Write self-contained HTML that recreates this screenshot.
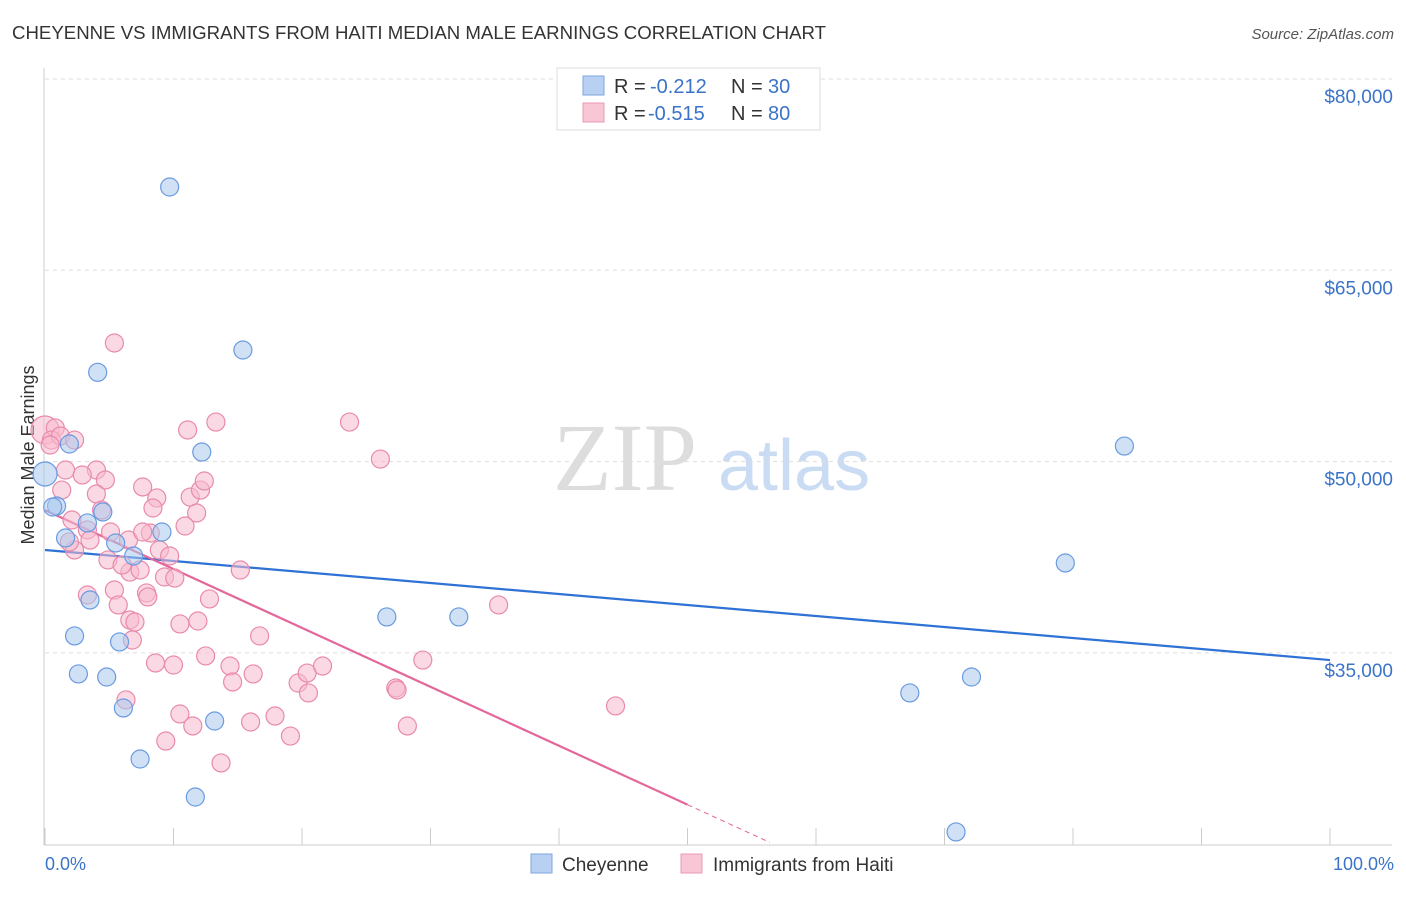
<!DOCTYPE html>
<html><head><meta charset="utf-8"><style>
body{margin:0;background:#fff;font-family:"Liberation Sans",sans-serif}
svg text{font-family:"Liberation Sans",sans-serif}
</style></head><body>
<svg id="chart" width="1406" height="892" xmlns="http://www.w3.org/2000/svg">
<text x="12" y="39" font-size="18" fill="#333" textLength="814" lengthAdjust="spacingAndGlyphs">CHEYENNE VS IMMIGRANTS FROM HAITI MEDIAN MALE EARNINGS CORRELATION CHART</text>
<text x="1394" y="39" font-size="15" fill="#555" text-anchor="end" font-style="italic">Source: ZipAtlas.com</text>
<text x="553" y="490" font-size="96" fill="#ddd" font-family="Liberation Serif" style="font-family:'Liberation Serif',serif">ZIP</text>
<text x="718" y="490" font-size="72" fill="#c9dcf3">atlas</text>
<text transform="translate(34,455) rotate(-90)" font-size="18" fill="#333" text-anchor="middle">Median Male Earnings</text>
<g id="grid"></g><g id="axes"></g><g id="lines"></g><g id="pts"></g>
<g>
<rect x="557" y="68" width="263" height="62" fill="#fff" stroke="#ddd"/>
<rect x="583" y="76" width="21" height="19" fill="#b8d1f3" stroke="#7ea6e0"/>
<rect x="583" y="103" width="21" height="19" fill="#f8c6d5" stroke="#eb98b4"/>
<text x="614" y="93" font-size="20" fill="#333">R =</text>
<text x="650" y="93" font-size="20" fill="#3b73c8">-0.212</text>
<text x="731" y="93" font-size="20" fill="#333">N =</text>
<text x="768" y="93" font-size="20" fill="#3b73c8">30</text>
<text x="614" y="120" font-size="20" fill="#333">R =</text>
<text x="648" y="120" font-size="20" fill="#3b73c8">-0.515</text>
<text x="731" y="120" font-size="20" fill="#333">N =</text>
<text x="768" y="120" font-size="20" fill="#3b73c8">80</text>
</g>
<g>
<rect x="531" y="854" width="21" height="19" fill="#b8d1f3" stroke="#7ea6e0"/>
<text x="562" y="871" font-size="19" fill="#333">Cheyenne</text>
<rect x="681" y="854" width="21" height="19" fill="#f8c6d5" stroke="#eb98b4"/>
<text x="713" y="871" font-size="19" fill="#333">Immigrants from Haiti</text>
</g>
<text x="45" y="870" font-size="18" fill="#3b73c8">0.0%</text>
<text x="1394" y="870" font-size="18" fill="#3b73c8" text-anchor="end">100.0%</text>
</svg>
<script>
const yTicks=[80000,65000,50000,35000];
const yTickLabels=["$80,000","$65,000","$50,000","$35,000"];
const xTicks=[0,10,20,30,40,50,60,70,80,90,100];
const blueX=[9.7,15.4,4.1,1.9,12.2,0,0.9,0.6,4.5,3.3,1.6,5.5,9.1,6.9,2.3,5.8,3.5,2.6,4.8,6.1,13.2,7.4,11.7,26.6,32.2,84.0,79.4,67.3,72.1,70.9];
const blueY=[71530,58750,57000,51380,50750,49030,46520,46440,46050,45190,44010,43620,44480,42600,36330,35860,39150,33350,33110,30680,29660,26680,23700,37820,37820,51220,42050,31860,33110,20960];
const pinkX=[0,0.8,0.5,1.2,2.3,0.4,1.6,1.3,4.0,2.9,4.7,4.0,4.4,3.3,2.3,1.9,5.1,3.5,5.4,3.3,4.9,6.6,7.4,6.0,5.7,6.6,7.0,6.8,5.4,7.6,8.7,8.4,8.2,8.9,9.7,9.3,10.1,7.9,8.0,11.1,13.3,11.3,12.1,12.4,11.8,10.9,12.8,10.5,11.9,12.5,8.6,10.0,14.4,14.6,16.2,16.7,15.2,10.5,11.5,16.0,17.9,13.7,9.4,6.3,19.1,19.7,20.4,20.5,21.6,23.7,26.1,27.3,27.4,28.2,29.4,35.3,44.4,2.1,6.5,7.6];
const pinkY=[52480,52640,51690,52010,51690,51300,49340,47770,49340,48950,48560,47460,46200,44640,43070,43700,44480,43850,39930,39540,42290,41340,41500,41890,38760,37580,37420,36010,59300,48010,47150,46360,44400,43070,42600,40950,40870,39700,39390,52480,53100,47220,47770,48480,45970,44950,39230,37270,37500,34760,34210,34050,33970,32720,33350,36330,41500,30210,29270,29580,30050,26370,28090,31310,28480,32640,33420,31860,33970,53100,50200,32250,32090,29270,34440,38760,30840,45420,43850,44480];
const blueFit=[43070,34440];
const pinkFit=[46200,-462];
const NS="http://www.w3.org/2000/svg";
const X=p=>45+p*12.85, Y=v=>79+(80000-v)*191.3/15000;
function mk(g,t,a){const e=document.createElementNS(NS,t);for(const k in a)e.setAttribute(k,a[k]);document.getElementById(g).appendChild(e);return e;}
yTicks.forEach((v,i)=>{
 const l=mk('grid','line',{x1:45,x2:1392,y1:Y(v),y2:Y(v),stroke:'#ddd','stroke-dasharray':'4,4'});
 
 
 const t=mk('grid','text',{x:1393,y:Y(v)+24,'font-size':19,fill:'#3b73c8','text-anchor':'end'});
 t.textContent=yTickLabels[i];
 
 
});
const ax=mk('axes','line',{x1:44,x2:44,y1:68,y2:845,stroke:'#ccc'});


const bx=mk('axes','line',{x1:44,x2:1392,y1:845,y2:845,stroke:'#ccc'});


xTicks.forEach(p=>{const t=mk('axes','line',{x1:X(p),x2:X(p),y1:828,y2:845,stroke:'#ccc'});
 
 });
function dots(xs,ys,fill,stroke,name){xs.forEach((x,i)=>{const c=mk('pts','circle',{cx:X(x),cy:Y(ys[i]),r:(x===0&&i<6)?(name==='pink-point'&&i===0?14:12):9,fill:fill,'fill-opacity':0.55,stroke:stroke,'stroke-width':1.2});
 
 });}
dots(pinkX,pinkY,'#f7b9cd','#e98aab','pink-point');
dots(blueX,blueY,'#a9c8ef','#6a9be0','blue-point');
const bl=mk('lines','line',{x1:X(0),y1:Y(blueFit[0]),x2:X(100),y2:Y(blueFit[1]),stroke:'#2f72d6','stroke-width':2.2});


const pl=mk('lines','line',{x1:X(0),y1:Y(pinkFit[0]),x2:X(50),y2:Y(pinkFit[0]+pinkFit[1]*50),stroke:'#e3679a','stroke-width':2.2});


const pd=mk('lines','line',{x1:X(50),y1:Y(pinkFit[0]+pinkFit[1]*50),x2:X(56.4),y2:Y(pinkFit[0]+pinkFit[1]*56.4),stroke:'#e3679a','stroke-width':1,'stroke-dasharray':'5,4'});


</script>
</body></html>
